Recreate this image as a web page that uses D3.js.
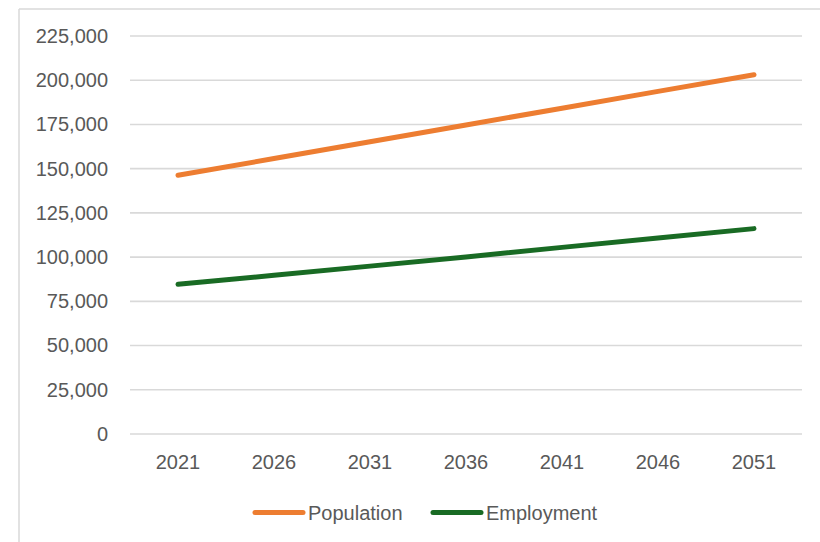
<!DOCTYPE html>
<html>
<head>
<meta charset="utf-8">
<script src="https://cdn.jsdelivr.net/npm/d3@7"></script>
<style>
  html, body { margin: 0; padding: 0; background: #fff; }
  svg { display: block; }
  text { font-family: "Liberation Sans", Arial, sans-serif; fill: #595959; }
</style>
</head>
<body>
<svg id="chart" width="820" height="542"></svg>
<script>
const years = ["2021", "2026", "2031", "2036", "2041", "2046", "2051"];
const population = [146300, 155700, 165200, 174700, 184200, 193700, 203100];
const employment = [84600, 89700, 94900, 100100, 105500, 110800, 116100];
const yTicks = [0, 25000, 50000, 75000, 100000, 125000, 150000, 175000, 200000, 225000];
const seriesNames = ["Population", "Employment"];
const seriesColors = ["#ED7D31", "#196B24"];

const svg = d3.select("#chart");
const fontSize = 20;

// chart area border (top and left edges visible)
svg.append("line").attr("x1", 19).attr("x2", 820).attr("y1", 9).attr("y2", 9)
  .attr("stroke", "#d9d9d9").attr("stroke-width", 1.5);
svg.append("line").attr("x1", 19).attr("x2", 19).attr("y1", 9).attr("y2", 542)
  .attr("stroke", "#d9d9d9").attr("stroke-width", 1.5);

const plotLeft = 130, plotRight = 802, plotTop = 36, plotBottom = 434;

const x = d3.scaleBand().domain(years).range([plotLeft, plotRight]);
const y = d3.scaleLinear().domain([0, 225000]).range([plotBottom, plotTop]);

// gridlines
svg.append("g").selectAll("line").data(yTicks).join("line")
  .attr("x1", plotLeft).attr("x2", plotRight)
  .attr("y1", d => y(d)).attr("y2", d => y(d))
  .attr("stroke", "#d9d9d9").attr("stroke-width", 1.6);

// y axis
const yAxis = d3.axisLeft(y).tickValues(yTicks).tickSize(0).tickPadding(0)
  .tickFormat(d3.format(","));
const gy = svg.append("g").attr("transform", `translate(108,0)`).call(yAxis);
gy.select(".domain").remove();
gy.selectAll("text").attr("font-size", fontSize).attr("fill", "#595959")
  .style("font-family", "'Liberation Sans', Arial, sans-serif");

// x axis
const xAxis = d3.axisBottom(x).tickSize(0).tickPadding(0);
const gx = svg.append("g").attr("transform", `translate(0,${plotBottom + 21})`).call(xAxis);
gx.select(".domain").remove();
gx.selectAll("text").attr("font-size", fontSize).attr("fill", "#595959")
  .style("font-family", "'Liberation Sans', Arial, sans-serif");

// lines
const cx = d => x(d) + x.bandwidth() / 2;
const line = d3.line().x((d, i) => cx(years[i])).y(d => y(d));
[population, employment].forEach((vals, i) => {
  svg.append("path").datum(vals)
    .attr("d", line)
    .attr("fill", "none")
    .attr("stroke", seriesColors[i])
    .attr("stroke-width", 5)
    .attr("stroke-linecap", "round")
    .attr("stroke-linejoin", "round");
});

// legend
const legendItems = [
  { name: seriesNames[0], color: seriesColors[0], x0: 255 },
  { name: seriesNames[1], color: seriesColors[1], x0: 433 }
];
const lg = svg.append("g");
legendItems.forEach(it => {
  lg.append("line").attr("x1", it.x0).attr("x2", it.x0 + 48)
    .attr("y1", 512.5).attr("y2", 512.5)
    .attr("stroke", it.color).attr("stroke-width", 5).attr("stroke-linecap", "round");
  lg.append("text").attr("x", it.x0 + 53).attr("y", 512.5)
    .attr("dy", "0.35em").attr("font-size", fontSize).text(it.name);
});
</script>
</body>
</html>
